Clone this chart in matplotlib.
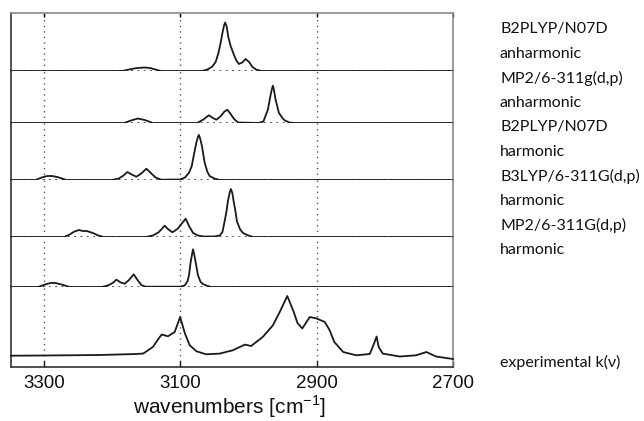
import matplotlib
matplotlib.use("Agg")
import matplotlib.pyplot as plt

plt.rcParams['font.family'] = ['Liberation Sans', 'DejaVu Sans']
plt.rcParams['mathtext.fontset'] = 'custom'
plt.rcParams['mathtext.rm'] = 'Liberation Sans'

# ---------------- data (wavenumber in cm-1, intensity in arbitrary units) ----------------
wn_b2plyp_anh = [3348, 3185, 3175, 3165, 3155, 3150, 3143, 3135, 3128, 3068, 3060, 3053, 3048, 3044,
                 3041, 3038, 3035.5, 3034, 3032, 3029.5, 3026, 3022, 3018, 3014, 3009, 3004, 2999,
                 2994, 2988, 2981, 2700]
in_b2plyp_anh = [0, 0, 1.5, 2.8, 3.4, 3.4, 2.8, 1.2, 0, 0, 1.5, 4.4, 9, 17.7,
                 27, 38, 46, 48.4, 45, 34.4, 25, 17.7, 11, 7, 8.5, 12, 9,
                 4, 1.2, 0, 0]

wn_mp2_anh = [3348, 3182, 3172, 3162, 3152, 3140, 3075, 3066, 3058, 3052, 3047, 3041, 3035, 3031,
              3027, 3021, 3015, 2985, 2978, 2971.4, 2967.8, 2965.5, 2964, 2962.5, 2960.1, 2955.2,
              2950, 2946.9, 2940, 2932, 2700]
in_mp2_anh = [0, 0, 2.5, 4.5, 3, 0, 0, 3.5, 7.7, 5, 3.3, 6.5, 11.5, 13.3,
              10, 4, 0.5, 0, 1.5, 13.3, 26.7, 34, 37.3, 33, 23.3, 10,
              5, 2.7, 0.5, 0, 0]

wn_b2plyp_harm = [3348, 3312, 3303, 3295, 3288, 3280, 3267, 3200, 3190, 3183, 3177.4, 3171, 3164.2,
                  3157, 3149.5, 3143, 3136, 3128, 3100, 3093, 3087, 3083, 3080.2, 3076.3, 3074,
                  3072.5, 3070.5, 3068.1, 3064.1, 3060, 3056.8, 3050, 3042, 2700]
in_b2plyp_harm = [0, 0, 2.5, 4, 4, 3, 0, 0, 1.5, 4.5, 8, 5.5, 3.3,
                  6.5, 11.3, 7, 2.5, 0.3, 0.5, 2.5, 7.3, 14, 24, 37.3, 43,
                  45, 41, 34, 17.3, 8, 4, 1.5, 0, 0]

wn_b3lyp_harm = [3348, 3270, 3262, 3255, 3248, 3243, 3237, 3228, 3220, 3212, 3150, 3140, 3132, 3127,
                 3122.7, 3118, 3111.4, 3104, 3097, 3091.9, 3087, 3081, 3074, 3066, 3050, 3042, 3038,
                 3034.8, 3032, 3030, 3027.5, 3025.6, 3023.5, 3021.6, 3019, 3016.8, 3012, 3007.9,
                 3000, 2993, 2700]
in_b3lyp_harm = [0, 0, 2.5, 5.5, 7, 6, 6, 4, 1.5, 0, 0, 1.5, 4.5, 8,
                 11.3, 8, 4.7, 8, 14, 18.3, 11, 4, 1.5, 0.5, 0.5, 1.5, 5,
                 15.7, 26, 35.7, 44, 48, 44, 35.7, 26, 15.7, 7.5, 4,
                 1.5, 0, 0]

wn_mp2_harm = [3348, 3308, 3298, 3290, 3283, 3274, 3262, 3215, 3206, 3199, 3193.5, 3187, 3181.3,
               3175, 3168.1, 3162, 3157, 3151, 3100, 3093.4, 3089, 3087.1, 3084.6, 3082.5, 3081.2,
               3079.5, 3077.3, 3073.9, 3070, 3066.6, 3060, 3054, 2700]
in_mp2_harm = [0, 0, 2.5, 4, 4, 2.5, 0, 0, 1.5, 4, 7.3, 4.5, 3.3,
               7, 12.7, 6.5, 2, 0.3, 0.3, 1.5, 6, 11.7, 25, 33, 37.7,
               33, 25, 11.7, 5, 3, 1, 0, 0]

wn_exp = [3348, 3301, 3218, 3164, 3154, 3140, 3132, 3127, 3118, 3108, 3100, 3093, 3086, 3076,
          3062, 3042, 3023, 3005, 2996, 2979, 2964, 2954, 2943, 2940, 2934, 2928, 2921, 2910,
          2900, 2888, 2881, 2874, 2861, 2842, 2822, 2816, 2812, 2809, 2803, 2778, 2754, 2739,
          2725, 2700]
in_exp = [11.3, 11.5, 12, 13, 13.5, 20, 28, 32.5, 30.7, 35, 50, 33.5, 21.7, 15.7,
          12.7, 13.4, 16.7, 22.4, 21, 30, 41.7, 55, 71, 66, 56, 44, 38.5, 50,
          48.5, 45, 37, 25, 15, 11.7, 13, 23, 30.5, 20, 13.4, 10.5, 11.7, 15,
          10.5, 8]

label_lines = ["B2PLYP/N07D", "anharmonic", "MP2/6-311g(d,p)", "anharmonic", "B2PLYP/N07D",
               "harmonic", "B3LYP/6-311G(d,p)", "harmonic", "MP2/6-311G(d,p)", "harmonic"]
exp_label = "experimental k(\u03bd)"
xticks = [3300, 3100, 2900, 2700]
grid_wn = [3300, 3100, 2900]
xlim = (3348, 2700)

# panel intensity ranges
panel_ymax = [58, 52, 57, 57, 50, 80]

spectra = [(wn_b2plyp_anh, in_b2plyp_anh), (wn_mp2_anh, in_mp2_anh),
           (wn_b2plyp_harm, in_b2plyp_harm), (wn_b3lyp_harm, in_b3lyp_harm),
           (wn_mp2_harm, in_mp2_harm), (wn_exp, in_exp)]

# ---------------- figure ----------------
W, H = 644, 421
fig = plt.figure(figsize=(W / 100, H / 100), dpi=100)
gs = fig.add_gridspec(6, 1, height_ratios=panel_ymax, hspace=0,
                      left=11 / W, right=453 / W, top=1 - 13 / H, bottom=1 - 367 / H)
axes = [fig.add_subplot(gs[i]) for i in range(6)]

n = len(axes)
for i, (ax, (wn, inten)) in enumerate(zip(axes, spectra)):
    ax.set_xlim(*xlim)
    ax.set_ylim(0, panel_ymax[i])
    ax.set_yticks([])
    ax.set_xticks(xticks)
    for g in grid_wn:
        ax.axvline(g, color='#555555', ls=(0, (1, 3)), lw=1.0, zorder=1)
    last = (i == n - 1)
    if not last:
        ax.axhline(0, color='#444444', ls=(0, (1, 2.5)), lw=1.3, zorder=2, clip_on=False)
    ax.plot(wn, inten, color='#1a1a1a', lw=1.3, zorder=3, clip_on=False)
    for s in ax.spines.values():
        s.set_linewidth(1.2)
    ax.spines['left'].set_color('#333333')
    ax.spines['right'].set_color('#888888')
    ax.spines['top'].set_color('#888888')
    ax.spines['bottom'].set_color('#333333')
    ax.spines['top'].set_visible(i == 0)
    ax.spines['bottom'].set_visible(last)
    if last:
        ax.tick_params(axis='x', direction='in', length=4, width=1.0, pad=6,
                       labelsize=13.5, colors='#111111', top=False)
    elif i == 0:
        ax.tick_params(axis='x', direction='in', length=3, width=1.0, bottom=False,
                       top=True, labelbottom=False)
    else:
        ax.tick_params(axis='x', bottom=False, labelbottom=False)

fig.text(230 / W, 1 - 407 / H, r'wavenumbers [cm$^{\mathregular{-1}}$]',
         ha='center', va='center', fontsize=15, color='#111111')

for k, line in enumerate(label_lines):
    y = 29 + 24.6 * k
    fig.text(500 / W, 1 - y / H, line, ha='left', va='center', fontsize=11.5,
             family=['Lato', 'DejaVu Sans'], color='#111111')
fig.text(500 / W, 1 - 362 / H, exp_label, ha='left', va='center', fontsize=11.5,
         family=['Lato', 'DejaVu Sans'], color='#111111')

fig.savefig('out.png', dpi=100)
